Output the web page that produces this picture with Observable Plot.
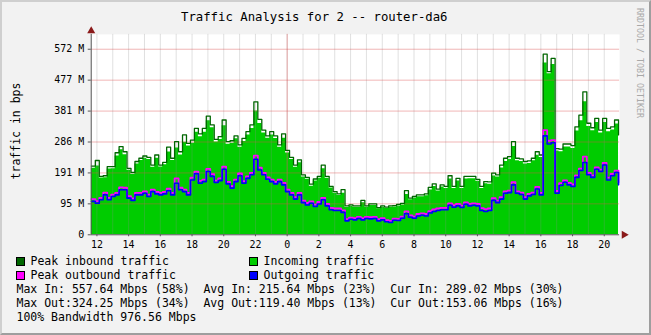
<!DOCTYPE html>
<html>
<head>
<meta charset="utf-8">
<script src="https://cdn.jsdelivr.net/npm/d3@7"></script>
<script src="https://cdn.jsdelivr.net/npm/@observablehq/plot@0.6"></script>
<style>
  html, body { margin: 0; padding: 0; background: #fff; }
  #wrap {
    position: relative; width: 651px; height: 335px; box-sizing: border-box;
    background: #f2f2f2; border: 2px solid; border-color: #cfcfcf #9e9e9e #9e9e9e #cfcfcf;
    font-family: "DejaVu Sans Mono", monospace; color: #000; overflow: hidden;
  }
  #chart { position: absolute; left: -2px; top: -2px; }
  .t { position: absolute; white-space: pre; line-height: 14px; font-size: 11.5px; }
  #title { position: absolute; left: 179px; top: 7px; font-size: 12.3px; white-space: pre; line-height: 16px; }
  #ylab { position: absolute; left: 14px; top: 129px; font-size: 11.5px; white-space: pre;
          transform: translate(-50%, -50%) rotate(-90deg); transform-origin: center; line-height: 14px; }
  #credit { position: absolute; left: 638px; top: 61px; font-size: 8.3px; color: #a8a8a8; white-space: pre;
          transform: translate(-50%, -50%) rotate(90deg); line-height: 10px; }
  .sw { position: absolute; width: 7px; height: 7px; border: 1px solid #000; }
</style>
</head>
<body>
<div id="wrap">
  <div id="chart"></div>
  <div id="title">Traffic Analysis for 2 -- router-da6</div>
  <div id="ylab">traffic in bps</div>
  <div id="credit">RRDTOOL / TOBI OETIKER</div>
  <div id="legend"></div>
</div>
<script>
// ---- data (Mbps, 15-minute samples starting 11:39) ----
const sampleStart = "2024-01-01T11:39:00Z";
const sampleStepMinutes = 15;
const peakIn = [212,229,180,182,210,210,253,272,256,205,
192,226,236,243,239,215,246,215,223,270,
236,287,256,308,282,292,328,311,328,366,
339,294,303,354,287,290,305,277,297,318,
339,410,356,323,305,318,305,277,311,260,
239,215,231,185,177,156,172,180,215,180,
149,133,126,139,89,92,89,89,106,89,
95,95,84,89,85,89,90,94,97,136,
113,118,123,123,126,146,157,141,154,149,
182,149,174,149,180,180,180,171,149,164,
163,190,185,215,236,241,287,236,234,226,
228,236,256,246,557,503,544,266,264,280,
280,275,333,369,441,344,330,359,323,359,
328,333,354,308];
const incoming = [205,212,175,176,203,204,243,262,247,199,
186,218,229,236,232,208,236,209,216,255,
229,268,246,285,274,282,316,302,316,352,
330,286,294,336,279,282,296,270,288,308,
328,382,343,314,298,308,297,270,298,252,
232,208,222,178,171,150,166,174,204,174,
144,128,121,128,84,88,85,85,99,85,
90,90,80,85,81,85,86,89,92,124,
108,113,117,117,120,138,149,135,147,143,
172,143,166,143,172,173,173,165,143,157,
156,181,178,206,226,232,272,228,226,218,
220,228,245,238,530,497,525,258,256,271,
271,266,320,352,410,334,321,346,314,346,
318,323,342,300];
const peakOut = [110,104,114,130,114,124,129,146,145,119,
112,129,129,134,124,139,132,129,132,142,
129,174,145,139,129,176,195,166,170,203,
187,167,174,210,163,150,170,189,165,180,
191,244,207,191,177,170,163,170,160,139,
129,116,129,105,98,103,93,101,114,95,
83,81,81,75,48,53,51,55,51,55,
54,55,48,51,45,43,50,49,56,72,
60,56,64,66,64,73,78,81,83,83,
97,91,95,90,100,95,97,95,82,79,
81,113,105,116,134,136,162,134,130,116,
126,130,148,129,323,290,292,135,159,168,
160,155,183,204,241,191,183,208,201,222,
176,188,198,162];
const outgoing = [103,97,108,123,108,118,123,139,139,113,
106,123,123,128,118,133,126,123,126,136,
123,159,139,133,123,169,188,159,164,195,
180,161,167,202,157,144,164,182,159,174,
185,233,200,185,171,164,157,164,154,133,
123,110,123,99,92,97,87,95,108,89,
77,75,75,69,43,48,46,50,46,50,
49,50,43,46,40,38,45,44,51,65,
54,51,58,60,58,67,72,75,77,77,
91,85,89,84,94,89,91,89,75,72,
75,106,99,110,128,130,154,128,124,110,
120,124,141,123,305,280,284,128,152,162,
154,149,177,198,223,185,177,202,195,215,
169,182,192,154];

const xDomain = [new Date("2024-01-01T11:38:30Z"), new Date("2024-01-02T20:58:00Z")];
const yDomain = [0, 618];
const yTickValues = [0, 95.367, 190.735, 286.102, 381.470, 476.837, 572.205];
const yTickLabels = ["0", "95 M", "191 M", "286 M", "381 M", "477 M", "572 M"];

const legendItems = [
  {label: "Peak inbound traffic", color: "#006600"},
  {label: "Incoming traffic", color: "#00cc00"},
  {label: "Peak outbound traffic", color: "#ff00ff"},
  {label: "Outgoing traffic", color: "#0000ff"}
];
const statLines = [
  "Max In: 557.64 Mbps (58%)  Avg In: 215.64 Mbps (23%)  Cur In: 289.02 Mbps (30%)",
  "Max Out:324.25 Mbps (34%)  Avg Out:119.40 Mbps (13%)  Cur Out:153.06 Mbps (16%)",
  "100% Bandwidth 976.56 Mbps"
];

// ---- table ----
const t0 = new Date(sampleStart).getTime();
const rows = peakIn.map((v, i) => ({
  time: new Date(t0 + i * sampleStepMinutes * 60000),
  peakIn: v, incoming: incoming[i], peakOut: peakOut[i], outgoing: outgoing[i]
}));

const hourLines = d3.utcHour.range(d3.utcHour.ceil(xDomain[0]), xDomain[1]);
const midnights = d3.utcDay.range(d3.utcDay.ceil(xDomain[0]), xDomain[1]);
const xTicks = d3.utcHour.range(d3.utcHour.ceil(xDomain[0]), xDomain[1], 2);
const curve = "step-after";

const chart = Plot.plot({
  width: 651, height: 252,
  marginLeft: 91, marginRight: 30, marginTop: 34, marginBottom: 17,
  style: {background: "transparent", fontFamily: "'DejaVu Sans Mono', monospace", fontSize: "10px", color: "#000", overflow: "visible"},
  x: {type: "utc", domain: xDomain},
  y: {domain: yDomain},
  marks: [
    Plot.frame({fill: "#ffffff", stroke: null}),
    Plot.areaY(rows, {x: "time", y: "incoming", fill: "#00cc00", curve}),
    Plot.ruleX(hourLines, {stroke: "#8f8f8f", strokeOpacity: 0.28}),
    Plot.ruleX(midnights, {stroke: "#de4f4f", strokeOpacity: 0.45}),
    Plot.ruleY(yTickValues.filter(d => d > 0), {stroke: "#de4f4f", strokeOpacity: 0.42}),
    Plot.lineY(rows, {x: "time", y: "peakIn", stroke: "#006600", strokeWidth: 1.3, curve}),
    Plot.lineY(rows, {x: "time", y: "peakOut", stroke: "#ff00ff", strokeWidth: 1.8, curve}),
    Plot.lineY(rows, {x: "time", y: "outgoing", stroke: "#0000ff", strokeWidth: 1.6, curve}),
    Plot.ruleX([xDomain[0]], {stroke: "#555"}),
    Plot.ruleY([0], {stroke: "#555"}),
    Plot.dot([{x: xDomain[0], y: yDomain[1]}], {x: "x", y: "y", symbol: "triangle", r: 3, dy: -3.5, fill: "#8b1a1a", stroke: null}),
    Plot.dot([{x: xDomain[1], y: 0}], {x: "x", y: "y", symbol: "triangle", r: 3, dx: 4.5, rotate: 90, fill: "#8b1a1a", stroke: null}),
    Plot.axisY({ticks: yTickValues, tickFormat: d => yTickLabels[yTickValues.indexOf(d)], tickSize: 3, tickPadding: 4, label: null, stroke: "#555"}),
    Plot.axisX({ticks: xTicks, tickFormat: d => String(d.getUTCHours()), tickSize: 2, tickPadding: 4, label: null, stroke: "#555"})
  ]
});
document.getElementById("chart").appendChild(chart);

// ---- legend ----
const legend = document.getElementById("legend");
const colX = [16, 249];
legendItems.forEach((item, i) => {
  const row = Math.floor(i / 2), col = i % 2;
  const cy = 260.7 + row * 14.3;
  const sw = document.createElement("div");
  sw.className = "sw";
  sw.style.left = (colX[col] - 2) + "px";
  sw.style.top = (cy - 4 - 2) + "px";
  sw.style.background = item.color;
  legend.appendChild(sw);
  const tx = document.createElement("div");
  tx.className = "t";
  tx.style.left = (colX[col] + 14.5 - 2) + "px";
  tx.style.top = (cy - 7 - 2) + "px";
  tx.textContent = item.label;
  legend.appendChild(tx);
});
statLines.forEach((s, j) => {
  const tx = document.createElement("div");
  tx.className = "t";
  tx.style.left = (16.5 - 2) + "px";
  tx.style.top = (288.8 + j * 14.2 - 7 - 2) + "px";
  tx.textContent = s;
  legend.appendChild(tx);
});
</script>
</body>
</html>
